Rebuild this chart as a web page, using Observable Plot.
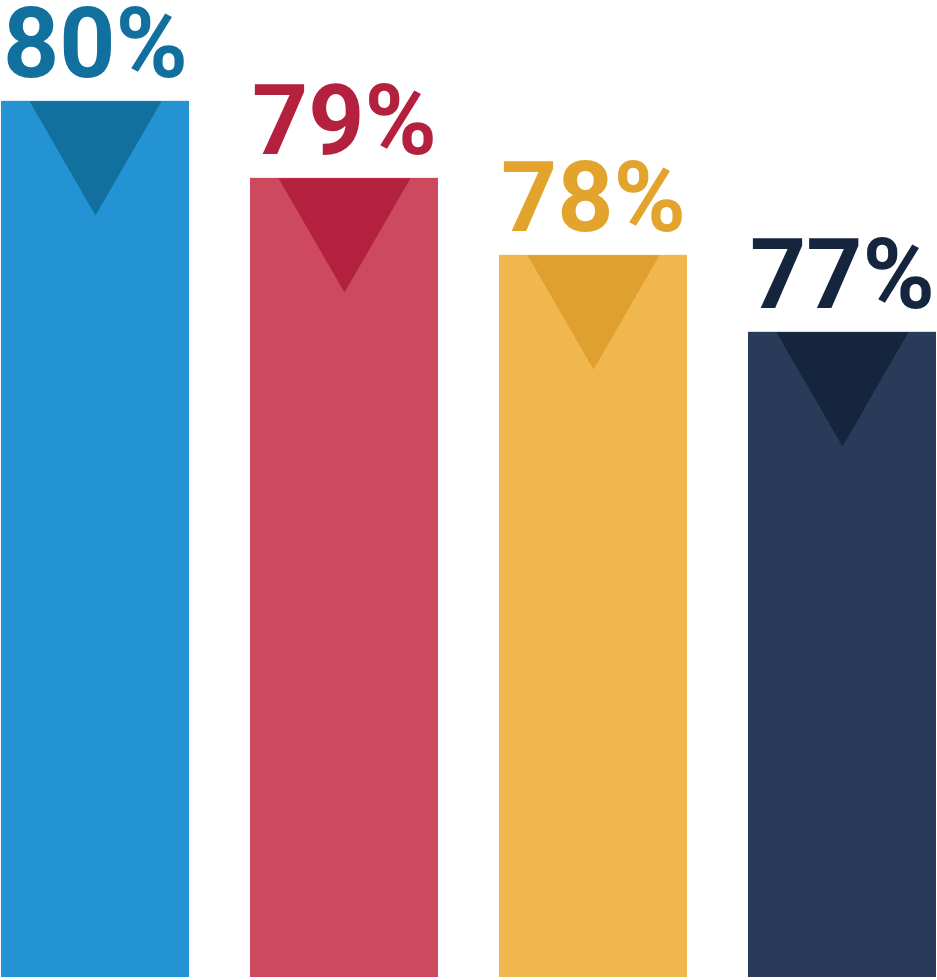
<!DOCTYPE html>
<html>
<head>
<meta charset="utf-8">
<script src="https://cdn.jsdelivr.net/npm/d3@7"></script>
<script src="https://cdn.jsdelivr.net/npm/@observablehq/plot@0.6"></script>
<style>
  html, body { margin: 0; padding: 0; background: #ffffff; }
  #chart svg { display: block; }
  #chart text { font-family: Roboto, "Open Sans", sans-serif; }
</style>
</head>
<body>
<div id="chart"></div>
<script>
const categories = ["A", "B", "C", "D"];
const values = [80, 79, 78, 77];
const labels = ["80%", "79%", "78%", "77%"];

const barPalette = ["#2393D3", "#CD4A5E", "#F0B74E", "#283C5A"];
const accentPalette = ["#11709E", "#B4213F", "#E0A02F", "#14253D"];
const labelPalette = ["#11709E", "#B4213F", "#E3A42E", "#14253D"];

const data = categories.map((c, i) => ({category: c, value: values[i], label: labels[i], i}));

const baseValue = 68.62;
const topValue = 81.31;

const chart = Plot.plot({
  width: 937,
  height: 980,
  marginTop: 0,
  marginBottom: 3,
  marginLeft: 0,
  marginRight: 0,
  style: {background: "#ffffff"},
  x: {domain: categories, paddingInner: 0.245, paddingOuter: 0, axis: null},
  y: {domain: [baseValue, topValue], axis: null},
  color: {type: "identity"},
  marks: [
    Plot.barY(data, {x: "category", y1: baseValue, y2: "value", fill: d => barPalette[d.i]}),
    Plot.dot(data, {x: "category", y: "value", symbol: "triangle", r: 49, rotate: 180, dy: 38, fill: d => accentPalette[d.i], stroke: "none"}),
    Plot.text(data, {x: "category", y: "value", text: "label", dy: -24, lineAnchor: "bottom", fontSize: 98, fontWeight: 700, fill: d => labelPalette[d.i]})
  ]
});
document.getElementById("chart").appendChild(chart);
</script>
</body>
</html>
